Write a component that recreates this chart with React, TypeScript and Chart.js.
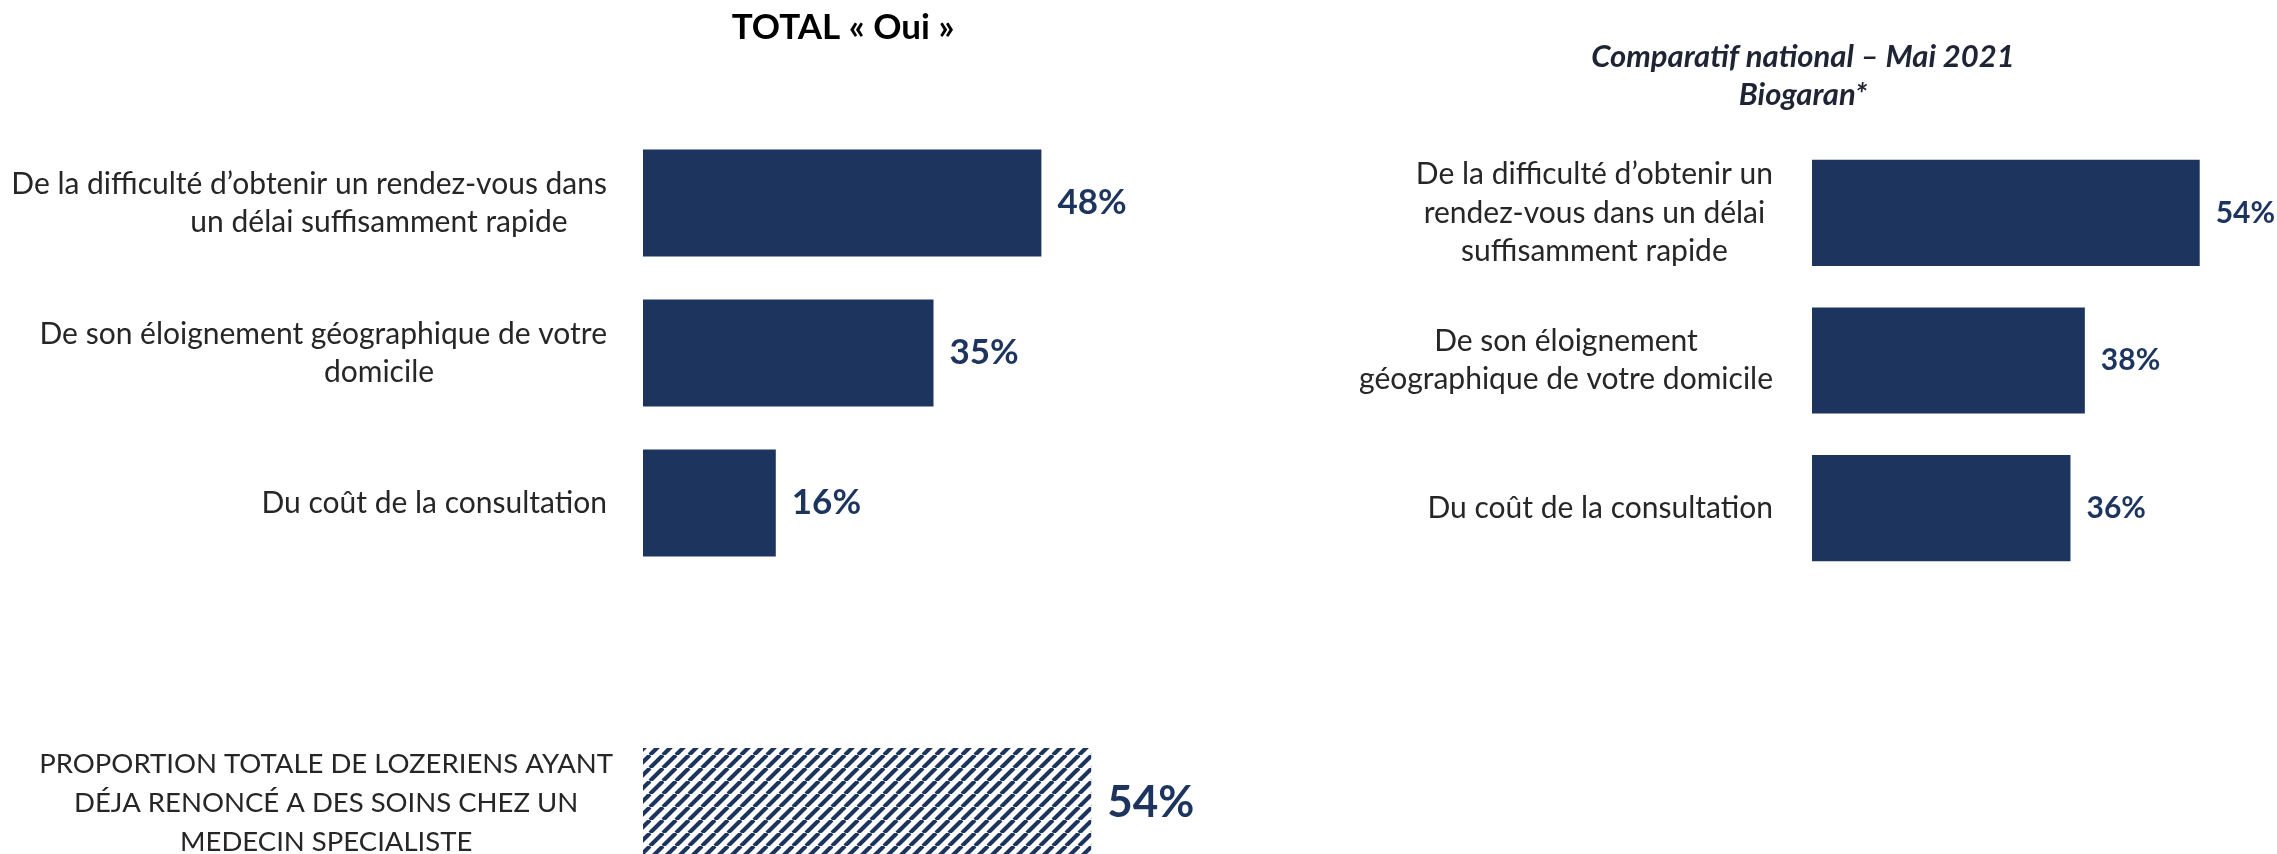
import React, { useEffect, useRef } from "react";
import { Chart, registerables } from "chart.js";

Chart.register(...registerables);

// ---------- data ----------
const totalTitle = "TOTAL « Oui »";
const totalCategories = [
  ["De la difficulté d’obtenir un rendez-vous dans", "un délai suffisamment rapide"],
  ["De son éloignement géographique de votre", "domicile"],
  ["Du coût de la consultation"],
];
const totalValues = [48, 35, 16];

const overallCategories = [
  ["PROPORTION TOTALE DE LOZERIENS AYANT", "DÉJA RENONCÉ A DES SOINS CHEZ UN", "MEDECIN SPECIALISTE"],
];
const overallValues = [54];

const nationalTitle = ["Comparatif national – Mai 2021", "Biogaran*"];
const nationalCategories = [
  ["De la difficulté d’obtenir un", "rendez-vous dans un délai", "suffisamment rapide"],
  ["De son éloignement", "géographique de votre domicile"],
  ["Du coût de la consultation"],
];
const nationalValues = [54, 38, 36];

// ---------- style ----------
const FONT = "Lato, 'Open Sans', sans-serif";
const NAVY = "#1d355e";
const TEXT = "#262626";

// value text to the right of each bar
const valueLabels = {
  id: "valueLabels",
  afterDatasetsDraw(chart: any, _args: any, opts: any) {
    const { ctx } = chart;
    const meta = chart.getDatasetMeta(0);
    const data = chart.data.datasets[0].data as number[];
    ctx.save();
    ctx.font = opts.font;
    ctx.fillStyle = opts.color;
    ctx.textAlign = "left";
    ctx.textBaseline = "middle";
    meta.data.forEach((bar: any, i: number) => {
      const { x, y } = bar.getProps(["x", "y"], true);
      ctx.fillText(`${data[i]}%`, x + opts.offset, y);
    });
    ctx.restore();
  },
};

// Category labels as text blocks right-aligned to the axis.
// Without boxWidth: lines centred within each label's own block.
// With boxWidth: lines of multi-line labels centred in a fixed-width box
// (lines wider than it right-aligned); single-line labels right-aligned.
const blockLabels = {
  id: "blockLabels",
  beforeDraw(chart: any, _args: any, opts: any) {
    const scale = chart.scales.y;
    if (!scale) return;
    const items = scale.getLabelItems(chart.chartArea);
    const pad = scale.options.ticks.padding;
    const right = scale.right - pad;
    const ctx = chart.ctx;
    const out: any[] = [];
    ctx.save();
    items.forEach((item: any) => {
      const lines: string[] = Array.isArray(item.label) ? item.label : [String(item.label)];
      ctx.font = item.font.string;
      const widths = lines.map((l) => ctx.measureText(l).width);
      const blockW = Math.max(...widths);
      lines.forEach((line, j) => {
        const w = widths[j];
        let cx = right - blockW / 2;
        if (opts && opts.boxWidth && lines.length > 1) {
          cx = Math.min(right - opts.boxWidth / 2, right - w / 2);
        }
        out.push({
          ...item,
          label: line,
          textOffset: item.textOffset + j * item.font.lineHeight,
          options: {
            ...item.options,
            textAlign: "center",
            translation: [cx, item.options.translation[1]],
          },
        });
      });
    });
    ctx.restore();
    items.length = 0;
    out.forEach((o) => items.push(o));
  },
};

function makeHatch(): CanvasPattern | string {
  const s = 13;
  const c = document.createElement("canvas");
  c.width = s;
  c.height = s;
  const g = c.getContext("2d");
  if (!g) return NAVY;
  g.fillStyle = "#ffffff";
  g.fillRect(0, 0, s, s);
  g.strokeStyle = NAVY;
  g.lineWidth = 4.1;
  g.beginPath();
  for (const x0 of [-s, 0, s]) {
    g.moveTo(x0, s);
    g.lineTo(x0 + s, 0);
  }
  g.stroke();
  const p = g.createPattern(c, "repeat");
  return p || NAVY;
}

// fixed axis width, and no extra vertical label padding
const fitAxis = (width: number) => (s: any) => {
  s.width = width;
  s.paddingTop = 0;
  s.paddingBottom = 0;
};

export default function App() {
  const refA = useRef<HTMLCanvasElement>(null);
  const refB = useRef<HTMLCanvasElement>(null);
  const refC = useRef<HTMLCanvasElement>(null);

  useEffect(() => {
    const charts: Chart[] = [];
    const leftMax = 1043 / 8.3;
    const rightMax = 465 / 7.18;

    charts.push(
      new Chart(refA.current as HTMLCanvasElement, {
        type: "bar",
        data: {
          labels: totalCategories as any,
          datasets: [
            {
              data: totalValues,
              backgroundColor: NAVY,
              barPercentage: 1,
              categoryPercentage: 0.713,
            },
          ],
        },
        options: {
          indexAxis: "y",
          responsive: false,
          animation: false,
          layout: { padding: { left: 0, right: 0, top: 0, bottom: 22 } },
          scales: {
            x: { display: false, min: 0, max: leftMax },
            y: {
              grid: { display: false, drawTicks: false },
              border: { display: false },
              ticks: {
                color: TEXT,
                font: { family: FONT, size: 30, lineHeight: "38px" },
                padding: 36,
                crossAlign: "near",
                autoSkip: false,
              },
              afterFit: fitAxis(643),
            },
          },
          plugins: {
            legend: { display: false },
            tooltip: { enabled: false },
            title: {
              display: true,
              text: totalTitle,
              color: "#000000",
              font: { family: FONT, size: 35, weight: "bold", lineHeight: "42px" },
              padding: { top: 7, bottom: 79 },
            },
            valueLabels: { font: `bold 35px ${FONT}`, color: NAVY, offset: 16 },
            blockLabels: { boxWidth: 456 },
          } as any,
        },
        plugins: [valueLabels, blockLabels],
      })
    );

    charts.push(
      new Chart(refB.current as HTMLCanvasElement, {
        type: "bar",
        data: {
          labels: overallCategories as any,
          datasets: [
            {
              data: overallValues,
              backgroundColor: makeHatch() as any,
              barPercentage: 1,
              categoryPercentage: 0.487,
            },
          ],
        },
        options: {
          indexAxis: "y",
          responsive: false,
          animation: false,
          layout: { padding: 0 },
          scales: {
            x: { display: false, min: 0, max: leftMax },
            y: {
              grid: { display: false, drawTicks: false },
              border: { display: false },
              ticks: {
                color: TEXT,
                font: { family: FONT, size: 27.5, lineHeight: "39px" },
                padding: 30,
                crossAlign: "center",
                autoSkip: false,
              },
              afterFit: fitAxis(643),
            },
          },
          plugins: {
            legend: { display: false },
            tooltip: { enabled: false },
            valueLabels: { font: `bold 44px ${FONT}`, color: NAVY, offset: 16 },
            blockLabels: {},
          } as any,
        },
        plugins: [valueLabels, blockLabels],
      })
    );

    charts.push(
      new Chart(refC.current as HTMLCanvasElement, {
        type: "bar",
        data: {
          labels: nationalCategories as any,
          datasets: [
            {
              data: nationalValues,
              backgroundColor: NAVY,
              barPercentage: 1,
              categoryPercentage: 0.719,
            },
          ],
        },
        options: {
          indexAxis: "y",
          responsive: false,
          animation: false,
          layout: { padding: { left: 0, right: 0, top: 0, bottom: 18 } },
          scales: {
            x: { display: false, min: 0, max: rightMax },
            y: {
              grid: { display: false, drawTicks: false },
              border: { display: false },
              ticks: {
                color: TEXT,
                font: { family: FONT, size: 30, lineHeight: "38.5px" },
                padding: 39,
                crossAlign: "center",
                autoSkip: false,
              },
              afterFit: fitAxis(483),
            },
          },
          plugins: {
            legend: { display: false },
            tooltip: { enabled: false },
            title: {
              display: true,
              text: nationalTitle,
              color: "#1e2433",
              font: { family: FONT, size: 31, weight: "bold", style: "italic", lineHeight: "38px" },
              padding: { top: 38, bottom: 25 },
            },
            valueLabels: { font: `bold 30px ${FONT}`, color: NAVY, offset: 16 },
            blockLabels: {},
          } as any,
        },
        plugins: [valueLabels, blockLabels],
      })
    );

    return () => charts.forEach((c) => c.destroy());
  }, []);

  const wrap: React.CSSProperties = {
    position: "absolute",
    left: 0,
    top: 0,
    width: 2277,
    height: 854,
    overflow: "hidden",
    background: "#ffffff",
  };

  return (
    <div style={wrap}>
      <canvas ref={refA} width={1686} height={600} style={{ position: "absolute", left: 0, top: 0, width: 1686, height: 600 }} />
      <canvas ref={refB} width={1686} height={226} style={{ position: "absolute", left: 0, top: 690, width: 1686, height: 226 }} />
      <canvas ref={refC} width={948} height={600} style={{ position: "absolute", left: 1329, top: 0, width: 948, height: 600 }} />
    </div>
  );
}
